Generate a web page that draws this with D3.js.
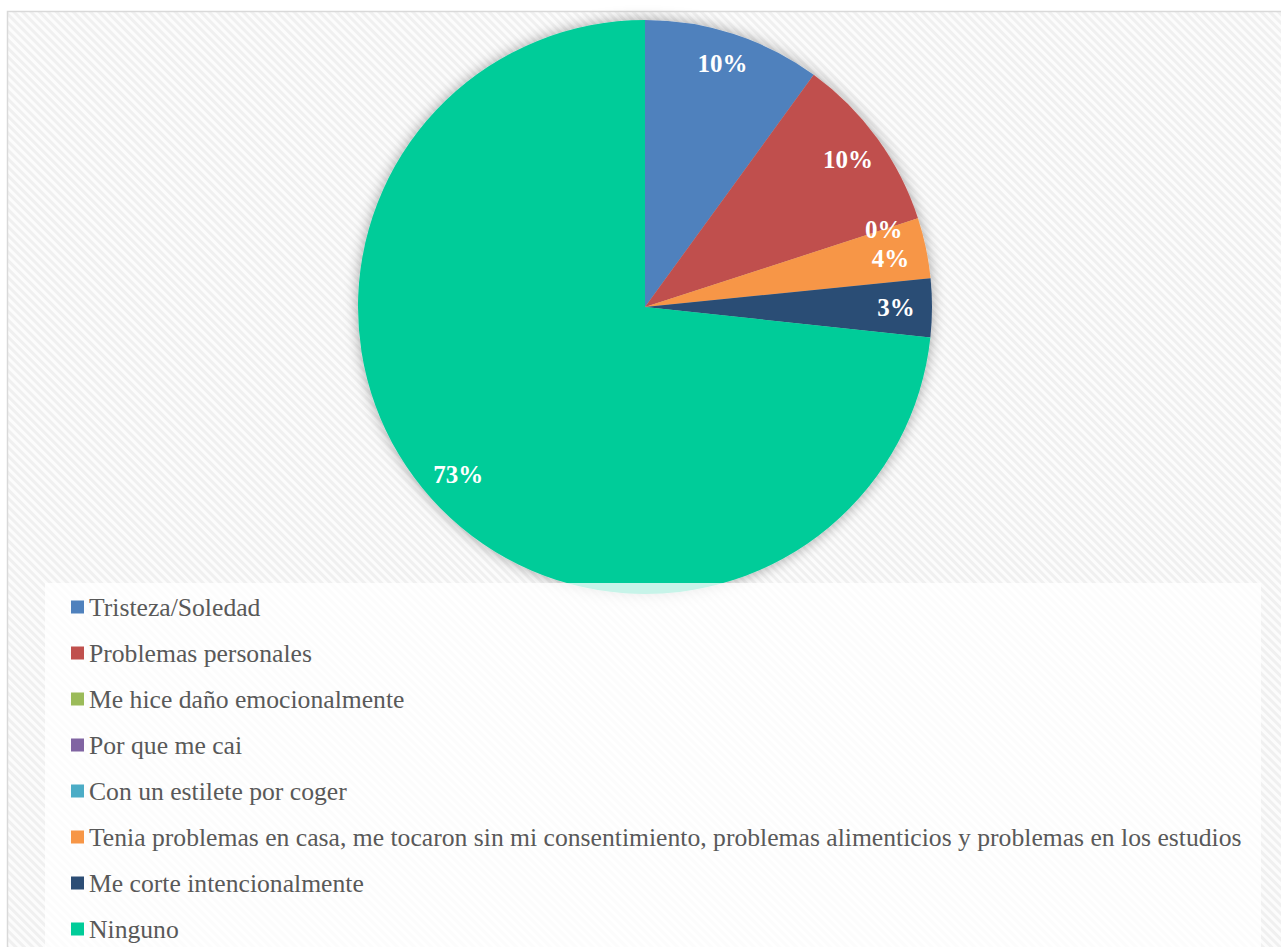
<!DOCTYPE html>
<html><head><meta charset="utf-8">
<script src="https://cdn.jsdelivr.net/npm/d3@7"></script>
<style>html,body{margin:0;padding:0;background:#fff;overflow:hidden}</style>
</head><body>
<svg id="c" width="1281" height="947"></svg>
<script>
const categories = ["Tristeza/Soledad","Problemas personales","Me hice daño emocionalmente","Por que me cai","Con un estilete por coger","Tenia problemas en casa, me tocaron sin mi consentimiento, problemas alimenticios y problemas en los estudios","Me corte intencionalmente","Ninguno"];
const values = [10, 10, 0, 0, 0, 3.4, 3.3, 73.3];
const dataLabels = ["10%","10%","0%","0%","0%","4%","3%","73%"];
const colors = ["#4F81BD","#C0504D","#9BBB59","#8064A2","#4BACC6","#F79646","#2C4D75","#00CC99"];

const svg = d3.select("#c");
const defs = svg.append("defs");
const pat = defs.append("pattern").attr("id","stripes").attr("patternUnits","userSpaceOnUse")
  .attr("width",6).attr("height",6).attr("patternTransform","rotate(-45)");
pat.append("rect").attr("width",6).attr("height",6).attr("fill","#fcfcfc");
pat.append("rect").attr("width",3).attr("height",6).attr("fill","#f0f0f0");
const f = defs.append("filter").attr("id","glow").attr("x","-20%").attr("y","-20%").attr("width","140%").attr("height","140%");
f.append("feDropShadow").attr("dx",0).attr("dy",0).attr("stdDeviation",7).attr("flood-color","#000").attr("flood-opacity",0.35);

// chart area
svg.append("rect").attr("x",7.5).attr("y",11.5).attr("width",1290).attr("height",960)
  .attr("fill","url(#stripes)").attr("stroke","#d9d9d9").attr("stroke-width",1.5);

const cx = 645, cy = 307, R = 287;
const pie = d3.pie().sort(null).value(d => d)(values);
const arc = d3.arc().innerRadius(0).outerRadius(R);
const g = svg.append("g").attr("transform",`translate(${cx},${cy})`);
const sg = g.append("g").attr("filter","url(#glow)");
sg.selectAll("path").data(pie).join("path")
  .attr("d",arc).attr("fill",(d,i)=>colors[i]);

// labels (overlapping zero-slice labels drawn once)
const labArc = d3.arc().innerRadius(251).outerRadius(251);
let zeroShown = false;
const labData = pie.filter(d => { if (d.value === 0) { if (zeroShown) return false; zeroShown = true; } return true; });
const dy = {0:-5, 5:3};
g.selectAll("text.lab").data(labData).join("text").attr("class","lab")
  .attr("transform",d=>{ const c = labArc.centroid(d); return `translate(${c[0]},${c[1] + (dy[d.index]||0)})`; })
  .attr("text-anchor","middle").attr("dominant-baseline","central")
  .attr("font-family","'Liberation Serif', serif").attr("font-weight","bold")
  .attr("font-size",25).attr("fill","#fff")
  .text(d => dataLabels[d.index]);

// legend box
svg.append("rect").attr("x",45).attr("y",583).attr("width",1216).attr("height",380)
  .attr("fill","#fff").attr("fill-opacity",0.78);

const lg = svg.append("g");
const rowY = d3.scaleLinear().domain([0,7]).range([607,929]);
const items = lg.selectAll("g").data(categories).join("g")
  .attr("transform",(d,i)=>`translate(71,${rowY(i)})`);
items.append("rect").attr("x",0).attr("y",-6.5).attr("width",13).attr("height",13).attr("fill",(d,i)=>colors[i]);
const texts = items.append("text").attr("x",18).attr("y",0).attr("dominant-baseline","central")
  .attr("font-family","'Liberation Serif', serif").attr("font-size",22).attr("fill","#595959")
  .text(d=>d);
const w = texts.nodes()[5].getComputedTextLength();
const fs = 22 * 1153 / w;
texts.attr("font-size", fs);
</script>
</body></html>
